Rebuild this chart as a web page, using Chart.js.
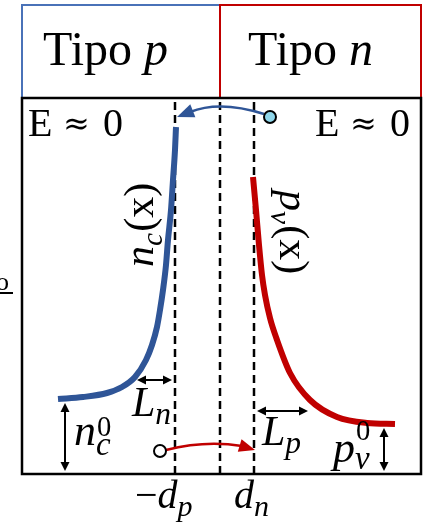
<!DOCTYPE html>
<html>
<head>
<meta charset="utf-8">
<script src="https://cdn.jsdelivr.net/npm/chart.js@4"></script>
<style>
  html, body { margin: 0; padding: 0; background: #fff; }
  canvas { display: block; }
</style>
</head>
<body>
<canvas id="chart" width="433" height="524"></canvas>
<script>
// electron concentration n_c(x) on the p side (x, y)
const ncX = [-162, -137, -113, -98, -85, -74, -68, -63, -60, -57, -54, -52, -49, -47, -45, -44];
const ncY = [75, 77, 81, 87, 97, 114, 129, 147, 164, 184, 209, 234, 264, 294, 324, 347];

// hole concentration p_v(x) on the n side
const pvX = [33, 36, 39, 42, 45, 50, 57, 70, 90, 117, 147, 175];
const pvY = [297, 264, 229, 199, 179, 156, 134, 101, 74, 57, 51, 50];

// depletion region edges: -d_p, 0, d_n
const boundaryX = [-45, 0, 34];

// carriers crossing the junction (electron on n side, hole on p side)
const markerX = [50, -60];
const markerY = [357, 23];

const X_MIN = -198, X_MAX = 201, Y_MAX = 376;

const BLUE = '#2f5597';
const RED = '#c00000';
const HEAD_BLUE = '#4a72b8';
const LIGHT_BLUE = '#8fd6ea';
const SERIF = '"Liberation Serif"';

// draws a run of text pieces (italic/sub/sup) from a left baseline point
function drawRun(ctx, x, y, parts, size) {
    let cx = x;
    for (const p of parts) {
        const s = size * (p.s || 1);
        ctx.font = `${p.i ? 'italic ' : ''}${s}px ${SERIF}`;
        ctx.fillText(p.t, cx + (p.dx || 0) * size, y + (p.dy || 0) * size);
        if (!p.stack) cx += ctx.measureText(p.t).width + (p.dx || 0) * size;
    }
}

function arrowHead(ctx, tipX, tipY, angle, len, half, color) {
    ctx.save();
    ctx.translate(tipX, tipY);
    ctx.rotate(angle);
    ctx.fillStyle = color;
    ctx.beginPath();
    ctx.moveTo(0, 0);
    ctx.lineTo(-len, -half);
    ctx.lineTo(-len, half);
    ctx.closePath();
    ctx.fill();
    ctx.restore();
}

function doubleArrow(ctx, x1, y1, x2, y2) {
    const a = Math.atan2(y2 - y1, x2 - x1);
    ctx.strokeStyle = '#000';
    ctx.lineWidth = 2;
    ctx.beginPath();
    ctx.moveTo(x1 + 6 * Math.cos(a), y1 + 6 * Math.sin(a));
    ctx.lineTo(x2 - 6 * Math.cos(a), y2 - 6 * Math.sin(a));
    ctx.stroke();
    arrowHead(ctx, x2, y2, a, 9, 4.5, '#000');
    arrowHead(ctx, x1, y1, a + Math.PI, 9, 4.5, '#000');
}

const annotations = {
    id: 'annotations',
    beforeDraw(chart) {
        const ctx = chart.ctx;
        ctx.save();
        ctx.fillStyle = '#fff';
        ctx.fillRect(0, 0, chart.width, chart.height);
        ctx.restore();
    },
    afterDraw(chart) {
        const ctx = chart.ctx;
        const sx = chart.scales.x, sy = chart.scales.y;
        const px = v => sx.getPixelForValue(v);
        const py = v => sy.getPixelForValue(v);
        const L = px(X_MIN), R = px(X_MAX), T = py(Y_MAX), B = py(0), M = px(0);

        ctx.save();
        // header boxes
        ctx.lineWidth = 2;
        ctx.strokeStyle = HEAD_BLUE;
        ctx.strokeRect(L, 5, M - L, T - 5);
        ctx.strokeStyle = RED;
        ctx.strokeRect(M, 5, R - M, T - 5);

        // main box
        ctx.strokeStyle = '#000';
        ctx.lineWidth = 2.5;
        ctx.strokeRect(L, T, R - L, B - T);

        ctx.fillStyle = '#000';
        ctx.textBaseline = 'alphabetic';
        drawRun(ctx, 43, 65, [{ t: 'Tipo ' }, { t: 'p', i: true }], 48);
        drawRun(ctx, 248, 65, [{ t: 'Tipo ' }, { t: 'n', i: true }], 48);

        // E ≈ 0 on both sides
        for (const x0 of [28, 315]) {
            ctx.font = `40px ${SERIF}`;
            ctx.fillText('E', x0, 136);
            ctx.fillText('0', x0 + 75, 136);
            ctx.font = `32px "DejaVu Serif"`;
            ctx.fillText('≈', x0 + 35, 134);
        }

        // rotated curve labels
        ctx.save();
        ctx.translate(153, 267);
        ctx.rotate(-Math.PI / 2);
        drawRun(ctx, 0, 0, [{ t: 'n', i: true }, { t: 'c', i: true, s: 0.7, dy: 0.22 }, { t: '(x)', dx: 0.03 }], 42);
        ctx.restore();

        ctx.save();
        ctx.translate(280, 190);
        ctx.rotate(Math.PI / 2);
        drawRun(ctx, 0, 0, [{ t: 'p', i: true }, { t: 'v', i: true, s: 0.7, dy: 0.22 }, { t: '(x)', dx: 0.03 }], 42);
        ctx.restore();

        // diffusion lengths
        doubleArrow(ctx, 137, 380, 172, 380);
        drawRun(ctx, 132, 416, [{ t: 'L', i: true }, { t: 'n', i: true, s: 0.75, dy: 0.2 }], 42);
        doubleArrow(ctx, 257, 411, 308, 411);
        drawRun(ctx, 262, 445, [{ t: 'L', i: true }, { t: 'p', i: true, s: 0.75, dy: 0.2 }], 42);

        // equilibrium levels
        doubleArrow(ctx, 65, py(ncY[0]) + 4, 65, B - 3);
        drawRun(ctx, 74, 445, [{ t: 'n', i: true }, { t: '0', s: 0.65, dy: -0.2, dx: 0.02, stack: true }, { t: 'c', i: true, s: 0.75, dy: 0.22 }], 44);
        doubleArrow(ctx, 384, py(pvY[pvY.length - 1]) + 4, 384, B - 3);
        drawRun(ctx, 333, 462, [{ t: 'p', i: true }, { t: '0', s: 0.65, dy: -0.5, dx: 0.02, stack: true }, { t: 'v', i: true, s: 0.75, dy: 0.15 }], 44);

        // boundary tick labels
        drawRun(ctx, px(boundaryX[0]) - 40, 508, [{ t: '−' }, { t: 'd', i: true }, { t: 'p', i: true, s: 0.75, dy: 0.2 }], 40);
        drawRun(ctx, px(boundaryX[2]) - 20, 508, [{ t: 'd', i: true }, { t: 'n', i: true, s: 0.75, dy: 0.2 }], 40);

        // electron injected into p side
        ctx.strokeStyle = BLUE;
        ctx.lineWidth = 2.5;
        ctx.beginPath();
        ctx.moveTo(px(markerX[0]) - 6, py(markerY[0]) - 3);
        ctx.quadraticCurveTo(M, 100, 190, 112);
        ctx.stroke();
        arrowHead(ctx, 177, 117, Math.atan2(117 - 108, 177 - 200), 17, 7, BLUE);

        // hole injected into n side
        ctx.strokeStyle = RED;
        ctx.beginPath();
        ctx.moveTo(px(markerX[1]) + 6, py(markerY[1]) - 1);
        ctx.quadraticCurveTo(205, 440, 242, 446);
        ctx.stroke();
        arrowHead(ctx, 255, 450, Math.atan2(450 - 444, 255 - 235), 16, 6.5, RED);

        // cropped label fragment at the left edge
        ctx.fillStyle = '#000';
        ctx.font = `26px ${SERIF}`;
        ctx.fillText('o', -4, 290);
        ctx.fillRect(0, 292, 13, 2);

        // markers on top of arrows
        for (let i = 0; i < markerX.length; i++) {
            ctx.beginPath();
            ctx.arc(px(markerX[i]), py(markerY[i]), 6, 0, Math.PI * 2);
            ctx.fillStyle = i === 0 ? LIGHT_BLUE : '#fff';
            ctx.fill();
            ctx.lineWidth = 2;
            ctx.strokeStyle = '#000';
            ctx.stroke();
        }
        ctx.restore();
    }
};

const toPoints = (xs, ys) => xs.map((x, i) => ({ x, y: ys[i] }));

const datasets = [
    {
        label: 'n_c(x)',
        data: toPoints(ncX, ncY),
        borderColor: BLUE,
        borderWidth: 6,
        borderCapStyle: 'butt',
        pointRadius: 0,
        cubicInterpolationMode: 'monotone',
        order: 1
    },
    {
        label: 'p_v(x)',
        data: toPoints(pvX, pvY),
        borderColor: RED,
        borderWidth: 6,
        borderCapStyle: 'butt',
        pointRadius: 0,
        cubicInterpolationMode: 'monotone',
        order: 1
    }
];
boundaryX.forEach(x => {
    datasets.push({
        label: 'edge',
        data: [{ x, y: 0 }, { x, y: Y_MAX }],
        borderColor: '#000',
        borderWidth: 2.5,
        borderDash: [8, 5],
        pointRadius: 0,
        order: 3
    });
});

new Chart(document.getElementById('chart').getContext('2d'), {
    type: 'line',
    data: { datasets },
    options: {
        responsive: false,
        animation: false,
        devicePixelRatio: 1,
        layout: { padding: { left: 22, right: 12, top: 98, bottom: 50 } },
        scales: {
            x: { type: 'linear', min: X_MIN, max: X_MAX, display: false },
            y: { type: 'linear', min: 0, max: Y_MAX, display: false }
        },
        plugins: { legend: { display: false }, tooltip: { enabled: false } }
    },
    plugins: [annotations]
});
</script>
</body>
</html>
